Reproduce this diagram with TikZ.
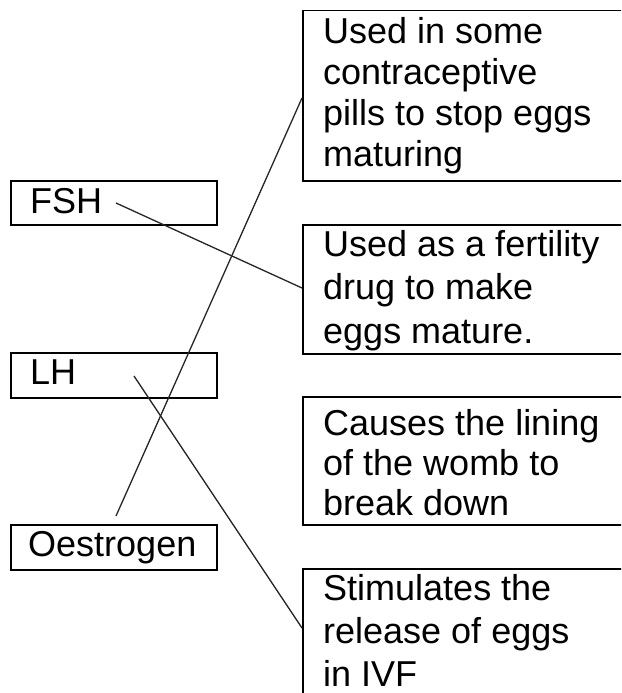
\documentclass[tikz,border=0pt]{standalone}
\usepackage{fontspec}
\setmainfont{Liberation Sans}
\begin{document}
\begin{tikzpicture}[x=1pt,y=-1pt,
  lbox/.style={draw=black, line width=1.5pt, anchor=north west, inner sep=0pt, minimum width=206pt},
  rbox/.style={draw=black, line width=1.5pt, anchor=north west, inner sep=0pt, minimum width=340pt},
  txt/.style={anchor=base west, inner sep=0pt, font=\fontsize{36}{42}\selectfont},
  link/.style={draw=black!85, line width=1.3pt}]
\clip (0,0) rectangle (621,693);
\fill[white] (0,0) rectangle (621,693);
% left boxes
\node[lbox, minimum height=44pt] (fshbox) at (10,180) {};
\node[txt] (fsh) at (30,213) {FSH};
\node[lbox, minimum height=45pt] (lhbox) at (10,352) {};
\node[txt] (lh) at (30,384) {LH};
\node[lbox, minimum height=45pt] (oebox) at (10,524) {};
\node[txt] (oe) at (28,556) {Oestrogen};
% right boxes
\node[rbox, minimum height=170pt] (r1) at (302,10) {};
\node[txt] (t1) at (323,44) {\fontsize{36}{40.7}\selectfont\parbox[t]{300pt}{Used in some\\contraceptive\\pills to stop eggs\\maturing}};
\node[rbox, minimum height=129pt] (r2) at (302,224) {};
\node[txt] (t2) at (323,256) {\fontsize{36}{43.5}\selectfont\parbox[t]{300pt}{Used as a fertility\\drug to make\\eggs mature.}};
\node[rbox, minimum height=128pt] (r3) at (302,396) {};
\node[txt] (t3) at (323,435) {\fontsize{36}{40}\selectfont\parbox[t]{300pt}{Causes the lining\\of the womb to\\break down}};
\node[rbox, minimum height=160pt] (r4) at (302,568) {};
\node[txt] (t4) at (323,600) {\fontsize{36}{43}\selectfont\parbox[t]{300pt}{Stimulates the\\release of eggs\\in IVF}};
% connector ends
\coordinate (fshend) at (116,203);
\coordinate (lhend) at (134,376);
\coordinate (oeend) at (116,516);
\coordinate (r1in) at (r1.north west |- 0,98);
\coordinate (r2in) at (r2.north west |- 0,288);
\coordinate (r4in) at (r4.north west |- 0,628);
\draw[link] (fshend) -- (r2in);
\draw[link] (oeend) -- (r1in);
\draw[link] (lhend) -- (r4in);
\end{tikzpicture}
\end{document}
